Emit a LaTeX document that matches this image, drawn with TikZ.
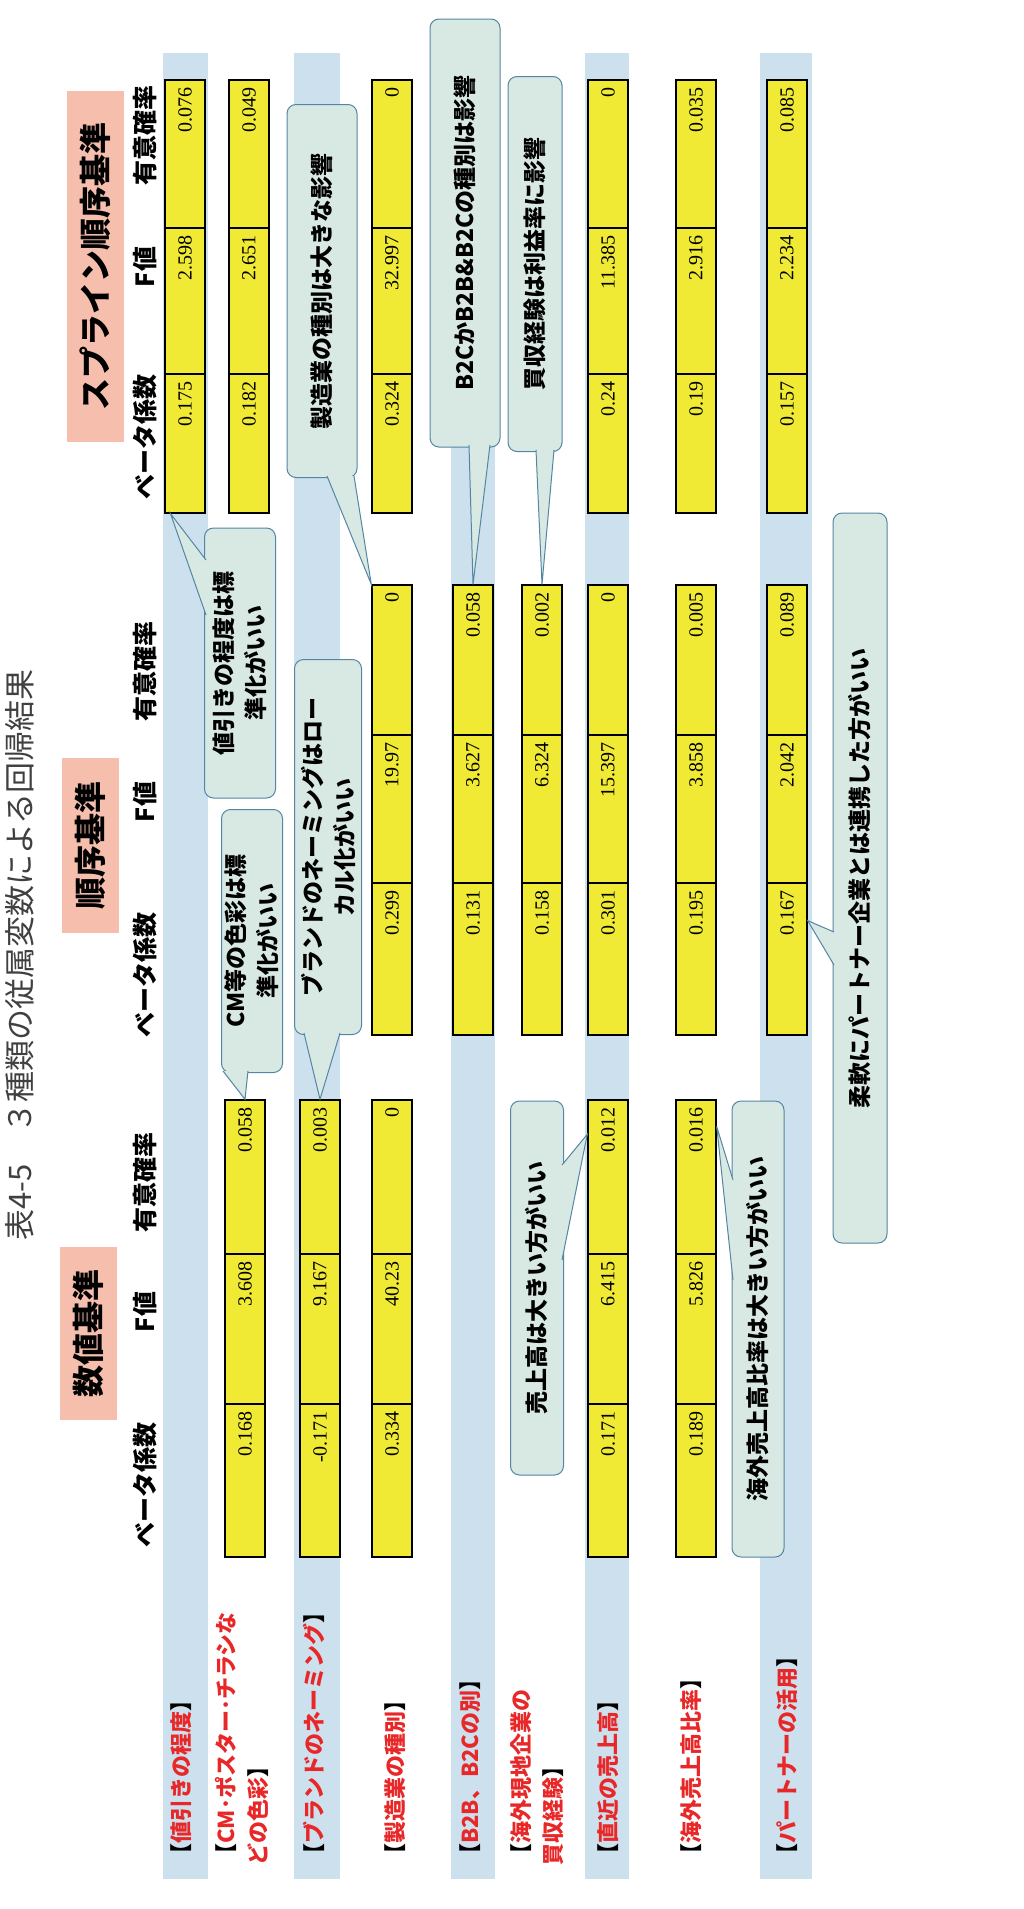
\documentclass[tikz,border=0pt]{standalone}
\usepackage{fontspec}
\setmainfont{Liberation Serif}
\newfontfamily\jp{Noto Sans CJK JP}
\usetikzlibrary{calc}
\definecolor{cellyellow}{RGB}{240,234,52}
\definecolor{bandblue}{RGB}{205,224,238}
\definecolor{pinkbox}{RGB}{246,190,172}
\definecolor{notefill}{RGB}{216,232,226}
\definecolor{noteline}{RGB}{84,134,164}
\definecolor{labelred}{RGB}{232,40,40}

% one table cell, rotated, value set to the right
\newcommand{\tcell}[5]{%
  \pgfmathsetmacro\cy{(#2+#3)/2}\pgfmathsetmacro\cw{#3-#2}\pgfmathsetmacro\tw{#3-#2-14}%
  \node[cellbox,minimum width=\cw pt,text width=\tw pt] (#5) at (#1,\cy) {#4};}
% three cells of one group: sig, F, beta
\newcommand{\grow}[9]{%
  \tcell{#2}{#3}{#4}{#7}{#1s}\tcell{#2}{#4}{#5}{#8}{#1f}\tcell{#2}{#5}{#6}{#9}{#1b}}
% pointer of a note
\newcommand{\pointer}[3]{%
  \fill[notefill] (#2) -- (#1) -- (#3) -- cycle;
  \draw[noteline,line width=1pt] (#2) -- (#1) -- (#3);}

\begin{document}
\begin{tikzpicture}[x=1pt,y=-1pt,
cellbox/.style={draw=black,line width=1.4pt,fill=cellyellow,rotate=90,minimum height=40pt,inner sep=0pt,align=right,font=\fontsize{20}{20}\selectfont},
headtxt/.style={rotate=90,inner sep=0pt,font=\jp\bfseries\fontsize{25}{25}\selectfont},
grouptitle/.style={rotate=90,fill=pinkbox,inner sep=0pt,font=\jp\bfseries\fontsize{32}{32}\selectfont},
rowlabel/.style={rotate=90,anchor=west,inner sep=0pt,align=left,text=labelred,font=\jp\bfseries\fontsize{22}{32}\selectfont},
note/.style={rotate=90,draw=noteline,line width=1pt,fill=notefill,rounded corners=9pt,inner sep=0pt,align=center,font=\jp\bfseries\fontsize{23}{32}\selectfont}]
\useasboundingbox (0,0) rectangle (1024,1909);

% bands
\foreach \xa/\xb in {163/208,294/340,451/495,585/629,760/812}
  \fill[bandblue] (\xa,53) rectangle (\xb,1879);

% title and headers
\node[rotate=90,inner sep=0pt,text=black!75,font=\jp\fontsize{31}{31}\selectfont] (title) at (20,955) {表4-5　３種類の従属変数による回帰結果};
\node[grouptitle,minimum width=173pt,minimum height=57pt] (g1t) at (88,1333) {数値基準};
\node[grouptitle,minimum width=175pt,minimum height=57pt] (g2t) at (90,845) {順序基準};
\node[grouptitle,minimum width=351pt,minimum height=57pt] (g3t) at (95,266) {スプライン順序基準};
\foreach \nm/\y/\t in {h1s/1182/有意確率,h1f/1312/F値,h1b/1485/ベータ係数,
  h2s/671/有意確率,h2f/802/F値,h2b/975/ベータ係数,
  h3s/135/有意確率,h3f/267/F値,h3b/437/ベータ係数}
  \node[headtxt] (\nm) at (145,\y) {\t};

% row labels
\node[rowlabel] (r1) at (181,1866) {\textcolor{black}{【}値引きの程度\textcolor{black}{】}};
\node[rowlabel] (r2) at (242,1866) {\textcolor{black}{【}CM･ポスター･チラシな\\どの色彩\textcolor{black}{】}};
\node[rowlabel] (r3) at (314,1866) {\textcolor{black}{【}ブランドのネーミング\textcolor{black}{】}};
\node[rowlabel] (r4) at (395,1866) {\textcolor{black}{【}製造業の種別\textcolor{black}{】}};
\node[rowlabel] (r5) at (470,1866) {\textcolor{black}{【}B2B、B2Cの別\textcolor{black}{】}};
\node[rowlabel] (r6) at (537,1866) {\textcolor{black}{【}海外現地企業の\\買収経験\textcolor{black}{】}};
\node[rowlabel] (r7) at (608,1866) {\textcolor{black}{【}直近の売上高\textcolor{black}{】}};
\node[rowlabel] (r8) at (691,1866) {\textcolor{black}{【}海外売上高比率\textcolor{black}{】}};
\node[rowlabel] (r9) at (787,1866) {\textcolor{black}{【}パートナーの活用\textcolor{black}{】}};

% cells
\foreach \nm/\x/\s/\f/\b in {r2/245/0.058/3.608/0.168,r3/320/0.003/9.167/-0.171,r4/392/0/40.23/0.334,
  r7/608/0.012/6.415/0.171,r8/696/0.016/5.826/0.189}
  \grow{g1\nm}{\x}{1100}{1254}{1404}{1557}{\s}{\f}{\b};
\foreach \nm/\x/\s/\f/\b in {r4/392/0/19.97/0.299,r5/473/0.058/3.627/0.131,r6/542/0.002/6.324/0.158,
  r7/608/0/15.397/0.301,r8/696/0.005/3.858/0.195,r9/787/0.089/2.042/0.167}
  \grow{g2\nm}{\x}{585}{735}{883}{1035}{\s}{\f}{\b};
\foreach \nm/\x/\s/\f/\b in {r1/185/0.076/2.598/0.175,r2/249/0.049/2.651/0.182,r4/392/0/32.997/0.324,
  r7/608/0/11.385/0.24,r8/696/0.035/2.916/0.19,r9/787/0.085/2.234/0.157}
  \grow{g3\nm}{\x}{80}{228}{374}{513}{\s}{\f}{\b};

% notes
\node[note,minimum width=373pt,minimum height=70pt] (n1) at (322,291) {製造業の種別は大きな影響};
\node[note,minimum width=428pt,minimum height=70pt] (n2) at (465,233) {B2CかB2B\&B2Cの種別は影響};
\node[note,minimum width=375pt,minimum height=54pt] (n3) at (535,264) {買収経験は利益率に影響};
\node[note,minimum width=270pt,minimum height=71pt] (n4) at (240,663) {値引きの程度は標\\準化がいい};
\node[note,minimum width=263pt,minimum height=61pt] (n5) at (252,941) {CM等の色彩は標\\準化がいい};
\node[note,minimum width=375pt,minimum height=67pt] (n6) at (328,847) {ブランドのネーミングはロー\\カル化がいい};
\node[note,minimum width=374pt,minimum height=53pt] (n7) at (537,1288) {売上高は大きい方がいい};
\node[note,minimum width=456pt,minimum height=52pt] (n8) at (758,1329) {海外売上高比率は大きい方がいい};
\node[note,minimum width=730pt,minimum height=54pt] (n9) at (860,878) {柔軟にパートナー企業とは連携した方がいい};

\pointer{g2r4s.north east}{327,476}{354,476}
\pointer{g2r5s.east}{469,445}{490,445}
\pointer{g2r6s.east}{536,450}{554,450}
\pointer{$(g3r1b.west)!0.7!(g3r1b.north west)$}{206,560}{206,615}
\pointer{g1r2s.east}{223,1071}{248,1071}
\pointer{g1r3s.east}{304,1033}{340,1033}
\pointer{$(g1r7s.north east)!0.45!(g1r7s.north)$}{562,1165}{562,1260}
\pointer{$(g1r8s.south east)!0.35!(g1r8s.south)$}{733,1180}{733,1280}
\pointer{$(g2r9b.south east)!0.5!(g2r9b.south)$}{834,932}{834,965}
\end{tikzpicture}
\end{document}
